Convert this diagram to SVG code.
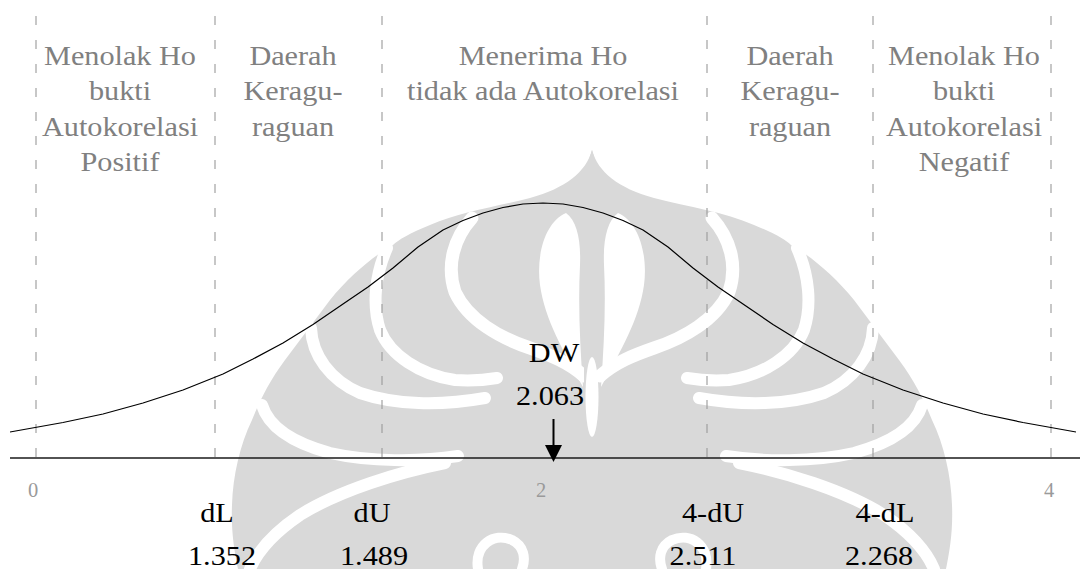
<svg xmlns="http://www.w3.org/2000/svg" xmlns:xlink="http://www.w3.org/1999/xlink" width="1082" height="569" viewBox="0 0 1082 569">
  <style>
    .wm { fill: #d9d9d9; }
    .wm-cut { fill: none; stroke: #ffffff; stroke-linecap: round; stroke-linejoin: round; }
    .zone-line { stroke: #9a9a9a; stroke-width: 1.1; stroke-dasharray: 9 15; fill: none; }
    .axis { stroke: #1a1a1a; stroke-width: 1.3; fill: none; }
    .curve { stroke: #000000; stroke-width: 1.2; fill: none; stroke-linejoin: round; }
    .zone { font-family: "Liberation Serif", "Times New Roman", serif; font-size: 28px; fill: #808080; text-anchor: middle; }
    .lbl { font-family: "Liberation Serif", "Times New Roman", serif; font-size: 28px; fill: #000000; text-anchor: middle; }
    .tick { font-family: "Liberation Serif", "Times New Roman", serif; font-size: 20.5px; fill: #9a9a9a; text-anchor: middle; }
  </style>
  <defs>
    <!-- one half of the background emblem; the other half is its mirror image -->
    <g id="emblem-half">
      <path class="wm" d="M600,175 L592,150 C586,172 566,188 530,198 C495,207 460,212 430,225 C410,233 398,240 393,245 C375,255 350,275 330,300 C315,320 300,340 285,360 C270,380 260,400 252,420 C240,445 233,475 232,505 C231,530 234,550 238,569 L600,569 Z"/>
      <path fill="#ffffff" d="M566,213 C545,222 536,255 540,285 C545,320 563,350 583,387 C580,345 578,305 580,265 C581,240 577,221 566,213 Z"/>
      <path class="wm-cut" stroke-width="13" d="M472,218 C454,238 446,265 455,292 C468,320 500,338 530,348 C550,355 568,362 584,376"/>
      <path class="wm-cut" stroke-width="12" d="M387,248 C375,275 372,305 380,330 C390,355 420,375 455,380 C470,381 485,380 497,378"/>
      <path class="wm-cut" stroke-width="12" d="M311,328 C312,355 330,380 360,393 C395,405 440,406 485,398"/>
      <path class="wm-cut" stroke-width="12" d="M262,405 C268,425 290,442 330,453 C370,462 420,462 458,456"/>
      <path class="wm-cut" stroke-width="12" d="M445,463 C400,472 340,490 300,515 C275,532 258,550 250,569"/>
      <path class="wm-cut" stroke-width="10" d="M478,569 C474,545 494,532 512,540 C524,546 526,558 522,569"/>
    </g>
  </defs>

  <rect x="0" y="0" width="1082" height="569" fill="#ffffff"/>

  <!-- background emblem -->
  <g id="watermark">
    <use xlink:href="#emblem-half"/>
    <use xlink:href="#emblem-half" transform="translate(1184 0) scale(-1 1)"/>
    <ellipse cx="592" cy="397" rx="6.5" ry="40" fill="#ffffff"/>
  </g>

  <!-- dashed zone boundaries -->
  <g id="zone-lines">
    <line class="zone-line" x1="36" y1="16" x2="36" y2="458"/>
    <line class="zone-line" x1="215" y1="16" x2="215" y2="458"/>
    <line class="zone-line" x1="382" y1="16" x2="382" y2="458"/>
    <line class="zone-line" x1="707" y1="16" x2="707" y2="458"/>
    <line class="zone-line" x1="873" y1="16" x2="873" y2="458"/>
    <line class="zone-line" x1="1051" y1="16" x2="1051" y2="458"/>
  </g>

  <!-- distribution curve -->
  <g id="curve">
    <polyline class="curve" points="10,432 63,422.5 103,414 143,403 183,390 223,374 253,359 283,343 313,324.5 343,304 368,287 393,268 418,247 443,230 463,220.5 483,213 503,207.5 523,204 543,203 563,204 583,207.5 603,213 623,220.5 643,230 668,247 693,268 718,287 743,304 773,324.5 803,343 833,359 863,374 903,390 943,403 983,414 1023,422.5 1076,432"/>
  </g>

  <!-- horizontal axis -->
  <g id="axis">
    <line class="axis" x1="10" y1="458" x2="1080" y2="458"/>
    <text class="tick" x="33" y="497">0</text>
    <text class="tick" x="541" y="497">2</text>
    <text class="tick" x="1049" y="497">4</text>
  </g>

  <!-- zone captions -->
  <g id="zone-reject-positive">
    <text class="zone" transform="translate(120 65) scale(1.08 1)"><tspan x="0" y="0">Menolak Ho</tspan><tspan x="0" y="35.5">bukti</tspan><tspan x="0" y="71">Autokorelasi</tspan><tspan x="0" y="106.5">Positif</tspan></text>
  </g>
  <g id="zone-doubt-left">
    <text class="zone" transform="translate(293 65) scale(1.08 1)"><tspan x="0" y="0">Daerah</tspan><tspan x="0" y="35.5">Keragu-</tspan><tspan x="0" y="71">raguan</tspan></text>
  </g>
  <g id="zone-accept">
    <text class="zone" transform="translate(543 65) scale(1.08 1)"><tspan x="0" y="0">Menerima Ho</tspan><tspan x="0" y="35.5">tidak ada Autokorelasi</tspan></text>
  </g>
  <g id="zone-doubt-right">
    <text class="zone" transform="translate(790 65) scale(1.08 1)"><tspan x="0" y="0">Daerah</tspan><tspan x="0" y="35.5">Keragu-</tspan><tspan x="0" y="71">raguan</tspan></text>
  </g>
  <g id="zone-reject-negative">
    <text class="zone" transform="translate(964 65) scale(1.08 1)"><tspan x="0" y="0">Menolak Ho</tspan><tspan x="0" y="35.5">bukti</tspan><tspan x="0" y="71">Autokorelasi</tspan><tspan x="0" y="106.5">Negatif</tspan></text>
  </g>

  <!-- critical values -->
  <g id="crit-dl">
    <text class="lbl" transform="translate(217 522) scale(1.08 1)">dL</text>
    <text class="lbl" transform="translate(222 565) scale(1.08 1)">1.352</text>
  </g>
  <g id="crit-du">
    <text class="lbl" transform="translate(372 522) scale(1.08 1)">dU</text>
    <text class="lbl" transform="translate(374 565) scale(1.08 1)">1.489</text>
  </g>
  <g id="crit-4du">
    <text class="lbl" transform="translate(713 522) scale(1.08 1)">4-dU</text>
    <text class="lbl" transform="translate(703 565) scale(1.08 1)">2.511</text>
  </g>
  <g id="crit-4dl">
    <text class="lbl" transform="translate(885 522) scale(1.08 1)">4-dL</text>
    <text class="lbl" transform="translate(879 565) scale(1.08 1)">2.268</text>
  </g>

  <!-- Durbin-Watson statistic -->
  <g id="dw-value">
    <text class="lbl" transform="translate(554 362) scale(1.08 1)">DW</text>
    <text class="lbl" transform="translate(550 405) scale(1.08 1)">2.063</text>
  </g>

  <g id="connectors">
    <line x1="553.5" y1="419" x2="553.5" y2="447" stroke="#000000" stroke-width="2"/>
    <polygon points="545,445 562,445 553.5,462" fill="#000000"/>
  </g>
</svg>
